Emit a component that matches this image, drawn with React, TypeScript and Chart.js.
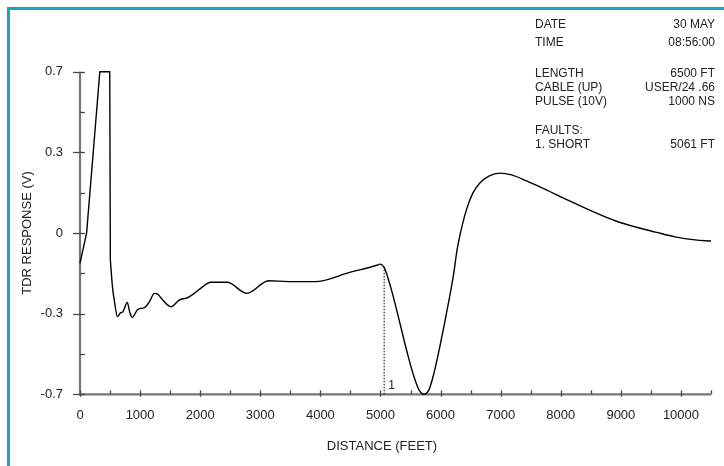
import React, { useEffect, useRef } from "react";
import { Chart, registerables } from "chart.js";

Chart.register(...registerables);

// ---- data (distance in feet, response on the plotted linear scale) ----
const DISTANCE_FT = [
  0, 110, 330, 495, 505, 540, 578, 622, 677, 715, 743, 787, 826, 870,
  963, 1073, 1156, 1238, 1293, 1376, 1513, 1651, 1788, 1899, 2009, 2174, 2449,
  2779, 3137, 3467, 3908, 4500, 4953, 4990, 5063, 5118, 5228, 5338, 5448, 5558,
  5641, 5724, 5806, 5889, 5999, 6109, 6219, 6274, 6357, 6440, 6539, 6654, 6803,
  6985, 7182, 7430, 7760, 8008, 8255, 8586, 8916, 9246, 9576, 9906, 10236, 10500,
];
const RESPONSE_V = [
  -0.132, 0.0, 0.7, 0.7, -0.117, -0.233, -0.305, -0.363, -0.346,
  -0.342, -0.324, -0.301, -0.342, -0.366, -0.331, -0.324, -0.298, -0.262,
  -0.265, -0.291, -0.32, -0.291, -0.281, -0.262, -0.24, -0.214, -0.214, -0.262,
  -0.207, -0.211, -0.211, -0.17, -0.139, -0.135, -0.15, -0.19, -0.291, -0.407,
  -0.522, -0.624, -0.681, -0.7, -0.681, -0.609, -0.479, -0.334, -0.175, -0.074,
  0.03, 0.109, 0.174, 0.217, 0.247, 0.26, 0.252, 0.226, 0.187, 0.156, 0.126,
  0.087, 0.052, 0.026, 0.004, -0.017, -0.03, -0.035,
];
// the launch pulse (clipped at full scale) is drawn with straight segments
const PULSE_END_FT = 505;

const FAULT_DISTANCE_FT = 5061;
const FAULT_TOP_V = -0.145;
const FAULT_LABEL = "1";

const Y_MIN = -0.7;
const Y_MAX = 0.7;
const Y_STEP = 0.175;
const Y_TICK_LABELS = ["-0.7", "", "-0.3", "", "0", "", "0.3", "", "0.7"];

const X_MIN = 0;
const X_MAX = 10500;
const X_STEP = 500;
const X_LABEL_EVERY = 1000;

const X_TITLE = "DISTANCE (FEET)";
const Y_TITLE = "TDR RESPONSE (V)";

const INFO_LABELS = ["DATE", "TIME", "LENGTH", "CABLE (UP)", "PULSE (10V)", "FAULTS:", "1. SHORT"];
const INFO_VALUES = ["30 MAY", "08:56:00", "6500 FT", "USER/24 .66", "1000 NS", "", "5061 FT"];

const FONT = "'Liberation Sans', Arial, Helvetica, sans-serif";
const FRAME_COLOR = "#1ea2c0";

export default function App() {
  const ref = useRef<HTMLCanvasElement | null>(null);

  useEffect(() => {
    const canvas = ref.current;
    if (!canvas) return;

    const points = DISTANCE_FT.map((d, i) => ({ x: d, y: RESPONSE_V[i] }));
    const pulse = points.filter((p) => p.x <= PULSE_END_FT);
    const trace = points.filter((p) => p.x >= PULSE_END_FT);
    const fault = [
      { x: FAULT_DISTANCE_FT, y: Y_MIN },
      { x: FAULT_DISTANCE_FT, y: FAULT_TOP_V },
    ];

    const decor = {
      id: "decor",
      beforeDatasetsDraw(chart: any) {
        const { ctx, chartArea, scales } = chart;
        const xs = scales.x;
        const ys = scales.y;
        const left = chartArea.left;
        const bottom = chartArea.bottom;
        const top = ys.getPixelForValue(Y_MAX);
        ctx.save();
        ctx.strokeStyle = "#767676";
        ctx.lineWidth = 2.2;
        ctx.beginPath();
        ctx.moveTo(left, top);
        ctx.lineTo(left, bottom);
        ctx.lineTo(chartArea.right, bottom);
        ctx.stroke();
        ctx.strokeStyle = "#4a4a4a";
        ctx.lineWidth = 1.3;
        ys.ticks.forEach((t: any, i: number) => {
          const py = Math.round(ys.getPixelForValue(t.value)) + 0.5;
          const major = Y_TICK_LABELS[i] !== "";
          ctx.beginPath();
          ctx.moveTo(major ? left - 7 : left, py);
          ctx.lineTo(left + 5, py);
          ctx.stroke();
        });
        xs.ticks.forEach((t: any) => {
          const px = Math.round(xs.getPixelForValue(t.value)) + 0.5;
          const major = t.value % X_LABEL_EVERY === 0;
          ctx.beginPath();
          ctx.moveTo(px, bottom - 4);
          ctx.lineTo(px, major ? bottom + 2.5 : bottom);
          ctx.stroke();
        });
        ctx.restore();
      },
      afterDraw(chart: any) {
        const { ctx, scales } = chart;
        const xs = scales.x;
        const ys = scales.y;
        ctx.save();
        ctx.fillStyle = "#222";
        ctx.font = `13px ${FONT}`;
        ctx.textBaseline = "middle";
        ctx.textAlign = "center";
        ctx.fillText(X_TITLE, 382, 446);
        ctx.save();
        ctx.translate(27, 233);
        ctx.rotate(-Math.PI / 2);
        ctx.fillText(Y_TITLE, 0, 0);
        ctx.restore();
        ctx.textAlign = "left";
        ctx.font = `12px ${FONT}`;
        ctx.fillText(
          FAULT_LABEL,
          xs.getPixelForValue(FAULT_DISTANCE_FT) + 4,
          ys.getPixelForValue(Y_MIN) - 9
        );
        const rowY = [25, 43, 73.5, 87.5, 102, 130.5, 144.5];
        ctx.font = `12px ${FONT}`;
        INFO_LABELS.forEach((lab, i) => {
          ctx.textAlign = "left";
          ctx.fillText(lab, 535, rowY[i]);
          ctx.textAlign = "right";
          ctx.fillText(INFO_VALUES[i], 715, rowY[i]);
        });
        ctx.restore();
      },
    };

    const lineStyle = {
      showLine: true,
      borderColor: "#000",
      borderWidth: 1.4,
      pointRadius: 0,
      clip: 6,
    };

    const chart = new Chart(canvas, {
      type: "scatter",
      data: {
        datasets: [
          { ...lineStyle, data: pulse, tension: 0 } as any,
          { ...lineStyle, data: trace, cubicInterpolationMode: "monotone" } as any,
          {
            data: fault,
            showLine: true,
            borderColor: "#000",
            borderWidth: 1,
            borderDash: [1.5, 1.5],
            pointRadius: 0,
            clip: 6,
          } as any,
        ],
      },
      options: {
        animation: false,
        responsive: false,
        devicePixelRatio: 1,
        layout: { padding: { top: 71.7, right: 8, left: 0, bottom: 0 } },
        plugins: { legend: { display: false }, tooltip: { enabled: false } },
        scales: {
          x: {
            type: "linear",
            min: X_MIN,
            max: X_MAX,
            grid: { display: false, drawTicks: false },
            border: { display: false },
            ticks: {
              stepSize: X_STEP,
              autoSkip: false,
              maxRotation: 0,
              padding: 13,
              color: "#222",
              font: { family: FONT, size: 13 },
              callback: (v: any) => (Number(v) % X_LABEL_EVERY === 0 ? String(v) : ""),
            },
            afterFit: (s: any) => {
              s.height = 71.7;
            },
          },
          y: {
            type: "linear",
            min: Y_MIN,
            max: Y_MAX,
            grid: { display: false, drawTicks: false },
            border: { display: false },
            ticks: {
              stepSize: Y_STEP,
              autoSkip: false,
              padding: 17,
              color: "#222",
              font: { family: FONT, size: 13 },
              callback: (_v: any, i: number) => Y_TICK_LABELS[i],
            },
            afterFit: (s: any) => {
              s.width = 80;
            },
          },
        },
      } as any,
      plugins: [decor],
    });

    return () => chart.destroy();
  }, []);

  return (
    <div>
      <canvas
        ref={ref}
        width={724}
        height={466}
        style={{ position: "fixed", left: 0, top: 0, width: 724, height: 466, background: "#fff" }}
      />
      <div
        style={{
          position: "fixed",
          left: 7,
          top: 7,
          width: 800,
          height: 600,
          borderTop: `3px solid ${FRAME_COLOR}`,
          borderLeft: `3px solid ${FRAME_COLOR}`,
          pointerEvents: "none",
        }}
      />
    </div>
  );
}
